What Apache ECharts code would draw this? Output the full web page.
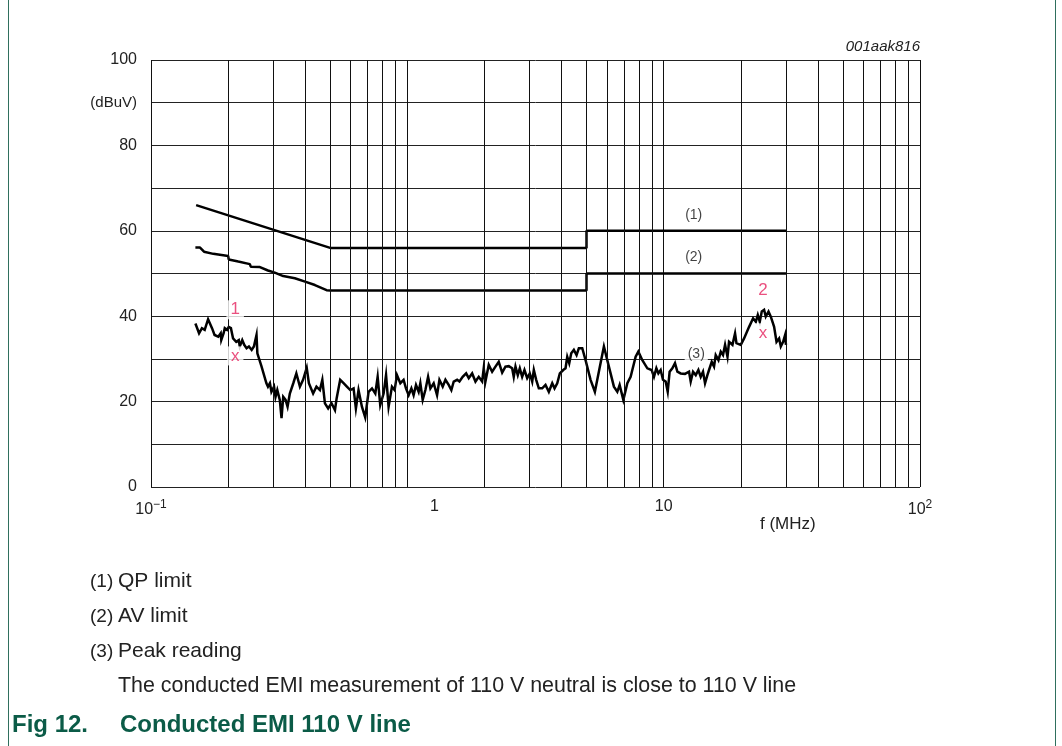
<!DOCTYPE html>
<html><head><meta charset="utf-8">
<script src="https://cdn.jsdelivr.net/npm/echarts@6/dist/echarts.min.js"></script>
<style>html,body{margin:0;padding:0;background:#fff}#c{width:1062px;height:746px}</style>
</head><body><div id="c"></div>
<script>
// ---- data ----
const qpFreq = [0.15, 0.5, 5, 5, 30];
const qpLevel = [66, 56, 56, 60, 60];
const avFreq = [0.149,0.155,0.161,0.175,0.200,0.201,0.219,0.243,0.245,0.266,0.286,0.304,0.328,0.364,0.399,0.436,0.484,0.5,5,5,30];
const avLevel = [56.1,56.1,55.1,54.6,54.1,53.3,52.8,52.2,51.6,51.5,50.7,50.2,49.4,48.9,48.1,47.3,46.1,46,46,50,50];
const peakFreq = [0.149,0.154,0.158,0.162,0.167,0.173,0.177,0.183,0.187,0.188,
0.192,0.194,0.198,0.201,0.205,0.209,0.212,0.215,0.220,0.222,
0.227,0.231,0.236,0.241,0.247,0.252,0.258,0.260,0.270,0.282,
0.286,0.291,0.295,0.302,0.306,0.311,0.318,0.323,0.328,0.335,
0.341,0.348,0.359,0.369,0.381,0.392,0.405,0.413,0.429,0.442,
0.456,0.466,0.477,0.491,0.506,0.522,0.530,0.547,0.564,0.581,
0.599,0.617,0.630,0.645,0.665,0.685,0.706,0.728,0.750,0.766,
0.784,0.808,0.826,0.845,0.871,0.892,0.911,0.939,0.967,0.988,
1.012,1.037,1.058,1.081,1.107,1.124,1.148,1.176,1.205,1.230,
1.267,1.306,1.334,1.374,1.408,1.450,1.485,1.517,1.564,1.597,
1.644,1.696,1.736,1.790,1.844,1.899,1.958,1.986,2.017,2.078,
2.142,2.207,2.273,2.344,2.414,2.487,2.564,2.601,2.642,2.697,
2.746,2.805,2.864,2.935,3.004,3.070,3.115,3.182,3.258,3.359,
3.460,3.565,3.675,3.752,3.844,3.935,4.057,4.142,4.206,4.282,
4.360,4.463,4.573,4.668,4.813,4.958,5.186,5.391,5.639,5.846,
6.114,6.396,6.594,6.733,6.961,7.215,7.432,7.546,7.774,7.966,
8.257,8.636,8.977,9.165,9.365,9.535,9.735,9.938,10.18,10.37,
10.55,10.81,11.07,11.31,11.65,12.11,12.56,12.75,13.02,13.34,
13.66,13.95,14.24,14.50,14.81,15.03,15.40,15.72,15.96,16.36,
16.70,17.04,17.36,17.74,17.99,18.55,18.99,19.23,19.99,20.59,
21.54,22.33,22.88,23.29,23.71,24.14,24.65,25.02,25.65,26.18,
26.97,27.56,28.21,28.64,29.24,29.77,30.0];
const peakLevel = [38.3,36.0,37.2,36.8,39.3,37.2,35.6,35.2,36.0,34.4,
36.0,37.2,36.8,37.5,37.2,34.8,35.2,34.0,34.4,32.9,
34.4,33.3,32.5,32.9,32.1,32.9,35.6,31.3,28.2,24.3,
23.5,24.3,22.3,23.5,21.1,22.7,20.4,16.1,21.1,20.4,
18.8,21.9,24.3,26.6,23.5,25.1,27.9,24.3,21.9,23.5,
22.7,25.1,19.6,18.4,19.6,18.0,20.8,25.1,24.3,23.5,
22.7,23.1,18.4,22.7,18.8,16.3,22.3,23.1,21.9,25.8,
19.2,21.9,26.2,18.8,23.5,22.7,26.2,24.3,25.1,23.1,
21.5,23.1,21.5,23.9,22.3,24.3,20.4,22.7,25.8,23.1,
24.3,21.5,25.1,23.5,25.1,23.9,22.7,24.7,25.1,24.7,
25.8,26.6,25.5,26.6,24.7,25.8,24.7,27.8,24.7,28.6,
27.0,28.2,29.3,26.8,28.2,28.3,27.8,25.8,28.2,26.2,
27.8,25.8,27.4,25.5,26.6,24.7,27.4,25.1,23.1,23.1,
23.9,22.3,24.3,23.1,24.3,26.6,27.4,27.8,30.5,29.0,
31.3,32.1,30.9,32.5,32.5,29.7,25.1,22.3,28.2,32.9,
28.2,23.5,22.3,23.9,20.4,24.3,25.8,26.2,30.5,31.7,
29.7,27.8,27.4,25.8,27.8,26.6,27.4,25.1,24.7,22.3,
27.0,27.8,29.0,27.0,26.6,26.5,27.0,24.7,27.0,26.2,
27.4,25.8,27.0,24.3,26.2,27.4,29.3,28.2,30.9,29.7,
31.7,30.9,33.3,30.5,34.0,33.3,36.0,33.7,33.3,34.8,
37.5,39.5,38.7,40.3,38.7,41.1,41.5,39.9,41.1,39.9,
37.5,34.0,34.8,32.9,34.0,35.6,33.3];
// curve tags (1)(2)(3)
const tagText = ['(1)', '(2)', '(3)'];
const tagFreq = [13.1, 13.1, 13.4];
const tagLevel = [63.7, 53.9, 31.1];
// measurement markers
const markText = ['1', 'x', '2', 'x'];
const markFreq = [0.213, 0.213, 24.4, 24.4];
const markLevel = [41.5, 30.7, 46.1, 36.1];
// axis ticks
const yTicks = [0, 20, 40, 60, 80, 100];
const yUnitAt = 90;
const minorGridX = [0.2,0.3,0.4,0.5,0.6,0.7,0.8,0.9,2,3,4,5,6,7,8,9,20,30,40,50,60,70,80,90];
const legendRows = [['(1)', 'QP limit'], ['(2)', 'AV limit'], ['(3)', 'Peak reading']];
const noteText = 'The conducted EMI measurement of 110 V neutral is close to 110 V line';
const figTitle = ['Fig 12.', 'Conducted EMI 110 V line'];

const zip = (a, b) => a.map((v, i) => [v, b[i]]);
const FONT = "'Liberation Sans', Arial, sans-serif";
const GREEN = '#0b5b47';
const PINK = '#e5245f';

const chart = echarts.init(document.getElementById('c'), null, {renderer: 'canvas'});
const graphics = [
  {type: 'line', shape: {x1: 8.5, y1: 0, x2: 8.5, y2: 746}, style: {stroke: '#2f6f5d', lineWidth: 1}},
  {type: 'line', shape: {x1: 1055.5, y1: 0, x2: 1055.5, y2: 746}, style: {stroke: '#2f6f5d', lineWidth: 1}},
  {type: 'text', right: 142, top: 39, style: {text: '001aak816', font: 'italic 15px ' + FONT, fill: '#222', textAlign: 'right'}},
  {type: 'text', left: 760, top: 516, style: {text: 'f (MHz)', font: '17px ' + FONT, fill: '#222'}},
];
legendRows.forEach((r, i) => {
  graphics.push({type: 'text', left: 90, top: 572 + i * 35, style: {text: r[0], font: '19px ' + FONT, fill: '#222'}});
  graphics.push({type: 'text', left: 118, top: 571 + i * 35, style: {text: r[1], font: '21px ' + FONT, fill: '#222'}});
});
graphics.push({type: 'text', left: 118, top: 676, style: {text: noteText, font: '21.4px ' + FONT, fill: '#222'}});
graphics.push({type: 'text', left: 12, top: 713, style: {text: figTitle[0], font: 'bold 24px ' + FONT, fill: GREEN}});
graphics.push({type: 'text', left: 120, top: 713, style: {text: figTitle[1], font: 'bold 24px ' + FONT, fill: GREEN}});

const lineBase = {type: 'line', symbol: 'none', silent: true, z: 4, animation: false};

chart.setOption({
  animation: false,
  grid: {left: 151, right: 142, top: 60, bottom: 259, containLabel: false},
  xAxis: {
    type: 'log', logBase: 10, min: 0.1, max: 100,
    axisLine: {show: false}, axisTick: {show: false},
    splitLine: {show: true, lineStyle: {color: '#111', width: 1}},
    minorTick: {show: false}, minorSplitLine: {show: false},
    axisLabel: {
      margin: 12, color: '#222', fontSize: 16, fontFamily: FONT,
      formatter: v => {
        const e = Math.round(Math.log10(v));
        if (e === 0) return '{one|1}';
        if (e === 1) return '{b|10}';
        return '{b|10}{s|' + (e < 0 ? '\u2212' + (-e) : e) + '}';
      },
      rich: {
        b: {fontSize: 16, fontFamily: FONT, color: '#222'},
        s: {fontSize: 12, fontFamily: FONT, color: '#222', padding: [0, 0, 9, 0]},
        one: {fontSize: 16, fontFamily: FONT, color: '#222', padding: [0, 0, 0, 54]}
      }
    }
  },
  yAxis: {
    type: 'value', min: 0, max: 100, interval: 10,
    axisLine: {show: false}, axisTick: {show: false},
    splitLine: {show: true, lineStyle: {color: '#222', width: 1}},
    axisLabel: {
      margin: 14, color: '#222', fontSize: 16, fontFamily: FONT,
      formatter: v => v === yUnitAt ? '{u|(dBuV)}' : (yTicks.indexOf(v) >= 0 ? String(v) : ''),
      rich: {u: {fontSize: 15, fontFamily: FONT, color: '#222'}}
    }
  },
  graphic: graphics,
  series: [
    {type: 'line', data: [], silent: true, z: 1,
     markLine: {silent: true, symbol: ['none', 'none'], label: {show: false}, animation: false,
       lineStyle: {color: '#111', width: 1, type: 'solid'},
       data: minorGridX.map(v => ({xAxis: v}))}},
    Object.assign({}, lineBase, {name: 'QP limit', data: zip(qpFreq, qpLevel), lineStyle: {color: '#000', width: 2.5}}),
    Object.assign({}, lineBase, {name: 'AV limit', data: zip(avFreq, avLevel), lineStyle: {color: '#000', width: 2.5}}),
    Object.assign({}, lineBase, {name: 'Peak reading', data: zip(peakFreq, peakLevel), lineStyle: {color: '#000', width: 2.5, join: 'miter'}}),
    {type: 'scatter', symbolSize: 0, silent: true, z: 6,
     data: tagText.map((t, i) => ({name: t, value: [tagFreq[i], tagLevel[i]]})),
     label: {show: true, position: 'inside', formatter: p => p.name, color: '#111', fontSize: 14, fontFamily: FONT,
             backgroundColor: '#fff', padding: [1, 3]}},
    {type: 'scatter', symbolSize: 0, silent: true, z: 6,
     data: markText.map((t, i) => ({name: t, value: [markFreq[i], markLevel[i]]})),
     label: {show: true, position: 'inside', formatter: p => p.name, color: PINK, fontSize: 17, fontFamily: FONT,
             backgroundColor: '#fff', padding: [1, 4]}}
  ]
});
</script></body></html>
